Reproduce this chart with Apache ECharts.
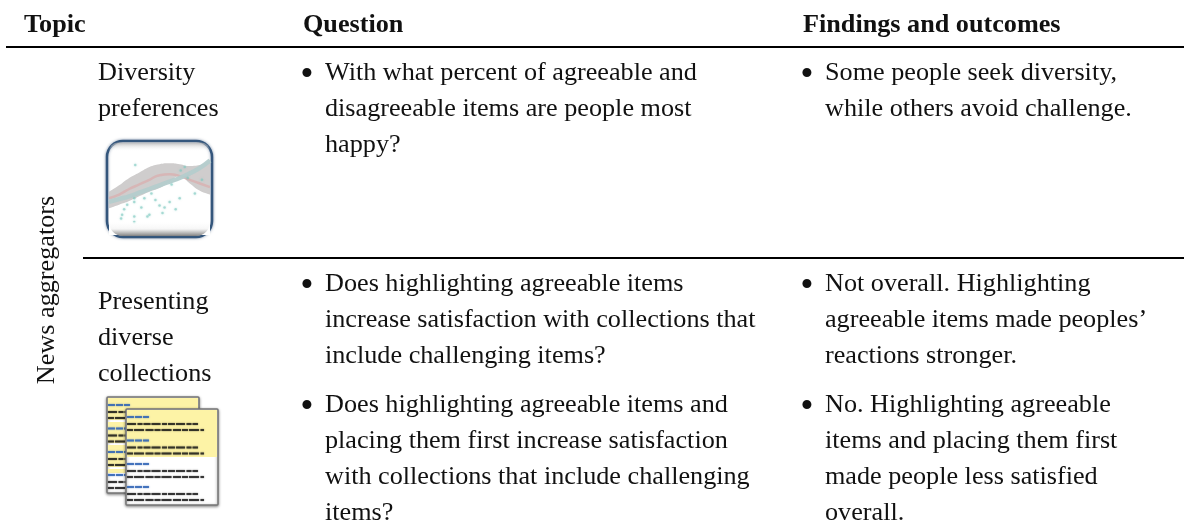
<!DOCTYPE html>
<html><head><meta charset="utf-8">
<style>html,body{margin:0;padding:0;background:#fff}#c{width:1184px;height:529px}</style>
<script src="https://cdn.jsdelivr.net/npm/echarts@6/dist/echarts.min.js"></script>
</head><body><div id="c"></div>
<script>
// ---- table content ----
const headers = ["Topic", "Question", "Findings and outcomes"];
const sideLabel = "News aggregators";
const row1Topic = ["Diversity", "preferences"];
const row2Topic = ["Presenting", "diverse", "collections"];
const q1 = ["With what percent of agreeable and", "disagreeable items are people most", "happy?"];
const f1 = ["Some people seek diversity,", "while others avoid challenge."];
const q2 = ["Does highlighting agreeable items", "increase satisfaction with collections that", "include challenging items?"];
const f2 = ["Not overall. Highlighting", "agreeable items made peoples’", "reactions stronger."];
const q3 = ["Does highlighting agreeable items and", "placing them first increase satisfaction", "with collections that include challenging", "items?"];
const f3 = ["No. Highlighting agreeable", "items and placing them first", "made people less satisfied", "overall."];
// ---- thumbnail sketch data ----
const bandX = [0, 10, 20, 30, 40, 50, 60, 70, 80, 90, 100];
const bandLower = [29, 33, 37, 42, 47, 51, 58, 64, 56, 48, 44];
const bandUpper = [47, 54, 62, 68, 74, 77, 78, 77, 75, 76, 82];
const redLine = [40, 44, 50, 55, 60, 65, 66, 64, 60, 56, 52];
const tealLine = [36, 39, 42, 46, 50, 54, 58, 62, 67, 73, 81];
const dots = [[26,76],[75,74],[71,70],[25,40],[25,36],[50,32],[46,38],[60,36],[70,40],[85,45],[13,22],[25,20],[38,20],[15,28],[42,45],[62,55],[55,30],[32,30],[12,18],[25,14],[40,22],[53,24],[78,62],[92,60],[66,28],[35,40],[18,33]];

const FONT = '"Liberation Serif", serif', SIZE = 26.2, LH = 35.8, INK = '#111';
const g = [];
function t(text, x, y, o) {
  g.push({type:'text', x, y, silent:true, style:{text, fill:INK, font:(o&&o.bold?'bold ':'')+SIZE+'px '+FONT, verticalAlign:'middle'}});
}
function lines(arr, x, y0, lh) { arr.forEach((s,i)=>t(s, x, y0+i*(lh||LH))); }
function bullets(arr, xb, xt, y0) {
  g.push({type:'text', x:xb, y:y0+3, silent:true, style:{text:'•', fill:INK, font:'38px '+FONT, align:'center', verticalAlign:'middle'}});
  lines(arr, xt, y0);
}
function rule(x1, x2, y, w) { g.push({type:'line', silent:true, shape:{x1,y1:y,x2,y2:y}, style:{stroke:'#000', lineWidth:w}}); }

headers.forEach((h,i)=>t(h, [24,303,803][i], 25.5, {bold:true}));
rule(6, 1184, 47, 2.2); rule(83, 1184, 258, 2);
lines(row1Topic, 98, 73.5); lines(row2Topic, 98, 302, 36);
bullets(q1, 307, 325, 73.5); bullets(f1, 807, 825, 73.5);
bullets(q2, 307, 325, 284.5); bullets(f2, 807, 825, 284.5);
bullets(q3, 307, 325, 405.5); bullets(f3, 807, 825, 405.5);
g.push({type:'text', x:47, y:290, rotation:Math.PI/2, silent:true, style:{text:sideLabel, fill:INK, font:SIZE+'px '+FONT, align:'center', verticalAlign:'middle'}});

// --- thumbnail 1 frame ---
g.push({type:'rect', z:0, silent:true, shape:{x:107,y:141,width:105,height:96,r:16},
  style:{fill:'#fff', stroke:'#34567c', lineWidth:2.5, shadowBlur:3, shadowColor:'rgba(40,70,110,.5)'}});
g.push({type:'rect', z:5, silent:true, shape:{x:109,y:222,width:101,height:14,r:[0,0,14,14]},
  style:{fill:{type:'linear',x:0,y:0,x2:0,y2:1,colorStops:[{offset:0,color:'rgba(255,255,255,0.5)'},{offset:.5,color:'rgba(245,245,245,.9)'},{offset:1,color:'rgba(125,125,125,.95)'}]}}});
g.push({type:'rect', z:5, silent:true, shape:{x:109,y:142.5,width:101,height:9,r:[14,14,0,0]},
  style:{fill:{type:'linear',x:0,y:0,x2:0,y2:1,colorStops:[{offset:0,color:'rgba(170,170,170,.75)'},{offset:1,color:'rgba(255,255,255,0)'}]}}});

// --- thumbnail 2 pages ---
function page(x, y, yellowRanges) {
  const w=92, h=96;
  g.push({type:'rect', z:0, silent:true, shape:{x,y,width:w,height:h,r:1}, style:{fill:'#fff', stroke:'#777', lineWidth:1.5, shadowBlur:3, shadowColor:'rgba(0,0,0,.45)', shadowOffsetY:1}});
  yellowRanges.forEach(r=>g.push({type:'rect', z:0, silent:true, shape:{x:x+1,y:y+r[0],width:w-2,height:r[1]}, style:{fill:'#fdf3a6'}}));
  [8,31.5,55,78].forEach(d=>{
    g.push({type:'line', z:0, silent:true, shape:{x1:x+1,y1:y+d,x2:x+23,y2:y+d}, style:{stroke:'#2c62b4', lineWidth:2, lineDash:[7,1], opacity:.75, shadowBlur:1.5, shadowColor:'#2c62b4'}});
    g.push({type:'line', z:0, silent:true, shape:{x1:x+1,y1:y+d+7,x2:x+72,y2:y+d+7}, style:{stroke:'#111', lineWidth:2.2, lineDash:[9,1.5,5,1,7,1], opacity:.7, shadowBlur:1.5, shadowColor:'#222'}});
    g.push({type:'line', z:0, silent:true, shape:{x1:x+1,y1:y+d+13,x2:x+78,y2:y+d+13}, style:{stroke:'#111', lineWidth:2.2, lineDash:[6,1,10,1.5,8,1], opacity:.7, shadowBlur:1.5, shadowColor:'#222'}});
  });
}
page(107, 397, [[1,22],[25,21],[48,22],[72,4]]);
page(126, 409, [[1,47]]);

const chart = echarts.init(document.getElementById('c'), null, {renderer:'canvas'});
chart.setOption({
  animation:false, backgroundColor:'#fff',
  grid:{left:109, top:143, width:101, height:92},
  xAxis:{type:'value', min:0, max:100, show:false},
  yAxis:{type:'value', min:0, max:100, show:false},
  graphic:{elements:g},
  series:[
    {type:'line', z:1, silent:true, symbol:'none', smooth:true, data:bandX.map((x,i)=>[x,bandUpper[i]]), lineStyle:{width:0}, areaStyle:{color:'#cfcdcd', opacity:1}},
    {type:'line', z:1, silent:true, symbol:'none', smooth:true, data:bandX.map((x,i)=>[x,bandLower[i]]), lineStyle:{width:0}, areaStyle:{color:'#ffffff', opacity:1}},
    {type:'line', z:2, silent:true, symbol:'none', smooth:true, data:bandX.map((x,i)=>[x,redLine[i]]), lineStyle:{width:2.5, color:'#d8b2b2', opacity:.85}},
    {type:'line', z:2, silent:true, symbol:'none', smooth:true, data:bandX.map((x,i)=>[x,tealLine[i]]), lineStyle:{width:4.5, color:'#b4cccc', opacity:.95}},
    {type:'scatter', z:3, silent:true, symbolSize:2.5, data:dots, itemStyle:{color:'#7cc8c0', opacity:.55, shadowBlur:2, shadowColor:'#7cc8c0'}}
  ]
});
</script></body></html>
